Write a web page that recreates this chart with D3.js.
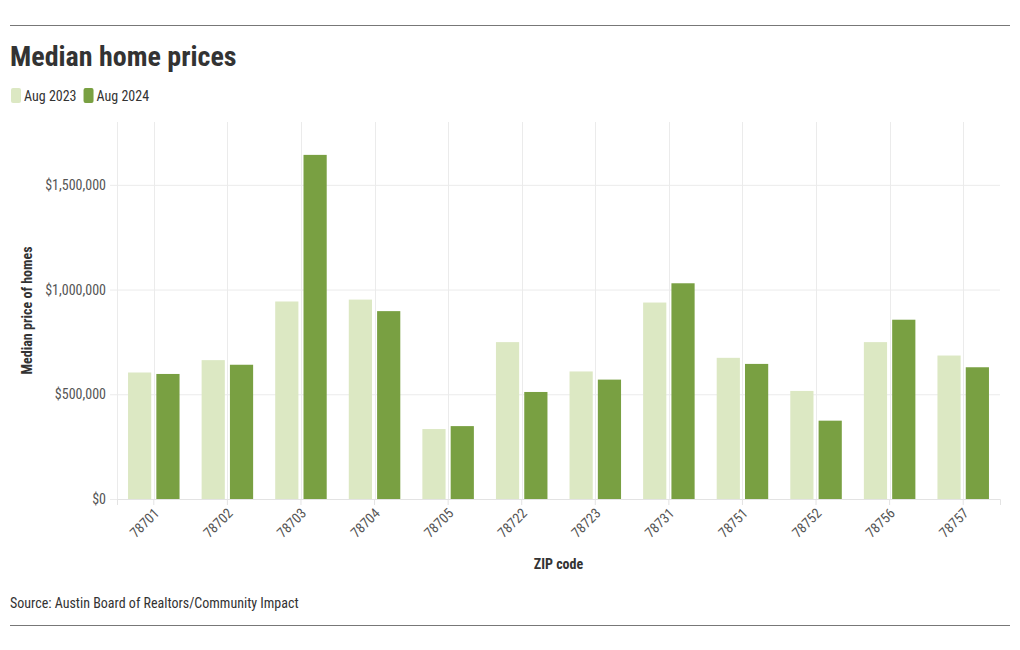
<!DOCTYPE html>
<html>
<head>
<meta charset="utf-8">
<script src="https://cdn.jsdelivr.net/npm/d3@7"></script>
<style>
  html, body { margin: 0; padding: 0; background: #fff; }
  svg text { font-family: "Roboto Condensed", "Roboto", sans-serif; font-stretch: condensed; }
</style>
</head>
<body>
<svg id="chart" width="1020" height="650"></svg>
<script>
const categories = ["78701","78702","78703","78704","78705","78722","78723","78731","78751","78752","78756","78757"];
const seriesNames = ["Aug 2023","Aug 2024"];
const aug2023 = [604000, 663000, 943000, 952000, 334000, 749000, 609000, 938000, 674000, 516000, 749000, 685000];
const aug2024 = [597000, 641000, 1643000, 897000, 348000, 511000, 570000, 1030000, 645000, 374000, 856000, 629000];
const yTicks = [0, 500000, 1000000, 1500000];
const colors = ["#dce8c3", "#79a042"];

const svg = d3.select("#chart");
const W = 1020, H = 650;
const m = {left: 117, right: 20, top: 122, bottom: 151};
const innerW = W - m.left - m.right, innerH = H - m.top - m.bottom;

// rules
svg.append("line").attr("x1", 10).attr("x2", 1010).attr("y1", 25.5).attr("y2", 25.5).attr("stroke", "#777").attr("stroke-width", 1);
svg.append("line").attr("x1", 10).attr("x2", 1010).attr("y1", 625.5).attr("y2", 625.5).attr("stroke", "#777").attr("stroke-width", 1);

// title
svg.append("text").attr("x", 10).attr("y", 66).text("Median home prices")
  .attr("font-size", 28).attr("font-weight", 700).attr("fill", "#333");

// legend
const leg = svg.append("g").attr("transform", "translate(11,88)");
let lx = 0;
seriesNames.forEach((s, i) => {
  leg.append("rect").attr("x", lx).attr("y", 0).attr("width", 10).attr("height", 15).attr("rx", 2).attr("fill", colors[i]);
  const t = leg.append("text").attr("x", lx + 13).attr("y", 12.5).text(s).attr("font-size", 14).attr("fill", "#333");
  lx += 13 + t.node().getComputedTextLength() + 7;
});

const g = svg.append("g").attr("transform", `translate(${m.left},${m.top})`);

const x0 = d3.scaleBand().domain(categories).range([0, innerW]).paddingInner(0.3).paddingOuter(0.15);
const x1 = d3.scaleBand().domain(seriesNames).range([0, x0.bandwidth()]).paddingInner(0.18);
const y = d3.scaleLinear().domain([0, 1800000]).range([innerH, 0]);

// vertical gridlines at left edge and band centers
g.append("line").attr("x1", 0.5).attr("x2", 0.5).attr("y1", 0).attr("y2", innerH).attr("stroke", "#ebebeb");
g.selectAll(".vgrid").data(categories).join("line")
  .attr("x1", d => Math.round(x0(d) + x0.bandwidth()/2) + 0.5)
  .attr("x2", d => Math.round(x0(d) + x0.bandwidth()/2) + 0.5)
  .attr("y1", 0).attr("y2", innerH).attr("stroke", "#ebebeb");

// y axis with gridlines
const yAxis = g.append("g").call(
  d3.axisLeft(y).tickValues(yTicks).tickSize(-innerW).tickPadding(11)
    .tickFormat(d => "$" + d3.format(",")(d))
);
yAxis.select(".domain").remove();
yAxis.selectAll(".tick line").attr("stroke", "#ebebeb").attr("x1", -7);
yAxis.selectAll(".tick text").attr("font-size", 14).attr("fill", "#555");

// bars
const data = categories.map((c, i) => ({cat: c, vals: [aug2023[i], aug2024[i]]}));
const groups = g.selectAll(".grp").data(data).join("g").attr("transform", d => `translate(${x0(d.cat)},0)`);
groups.selectAll("rect").data(d => d.vals.map((v, i) => ({s: seriesNames[i], v, i}))).join("rect")
  .attr("x", d => x1(d.s)).attr("width", x1.bandwidth())
  .attr("y", d => y(d.v)).attr("height", d => innerH - y(d.v))
  .attr("fill", d => colors[d.i]);

// x axis
const xAxis = g.append("g").attr("transform", `translate(0,${innerH})`).call(
  d3.axisBottom(x0).tickSize(6).tickPadding(4)
);
xAxis.select(".domain").attr("stroke", "#e3e3e3");
xAxis.selectAll(".tick line").attr("stroke", "#e3e3e3");
xAxis.selectAll(".tick text").attr("font-size", 14).attr("fill", "#555")
  .attr("text-anchor", "end").attr("dy", "0.35em")
  .attr("transform", "translate(0,6) rotate(-45)").attr("x", -2).attr("y", 6);

// axis titles
svg.append("text").attr("x", m.left + innerW / 2).attr("y", 569).attr("text-anchor", "middle")
  .text("ZIP code").attr("font-size", 14).attr("font-weight", 700).attr("fill", "#333");
svg.append("text").attr("transform", `translate(32,${m.top + innerH / 2}) rotate(-90)`).attr("text-anchor", "middle")
  .text("Median price of homes").attr("font-size", 14).attr("font-weight", 700).attr("fill", "#333");

// source
svg.append("text").attr("x", 10).attr("y", 608).text("Source: Austin Board of Realtors/Community Impact")
  .attr("font-size", 14).attr("fill", "#333");
</script>
</body>
</html>
